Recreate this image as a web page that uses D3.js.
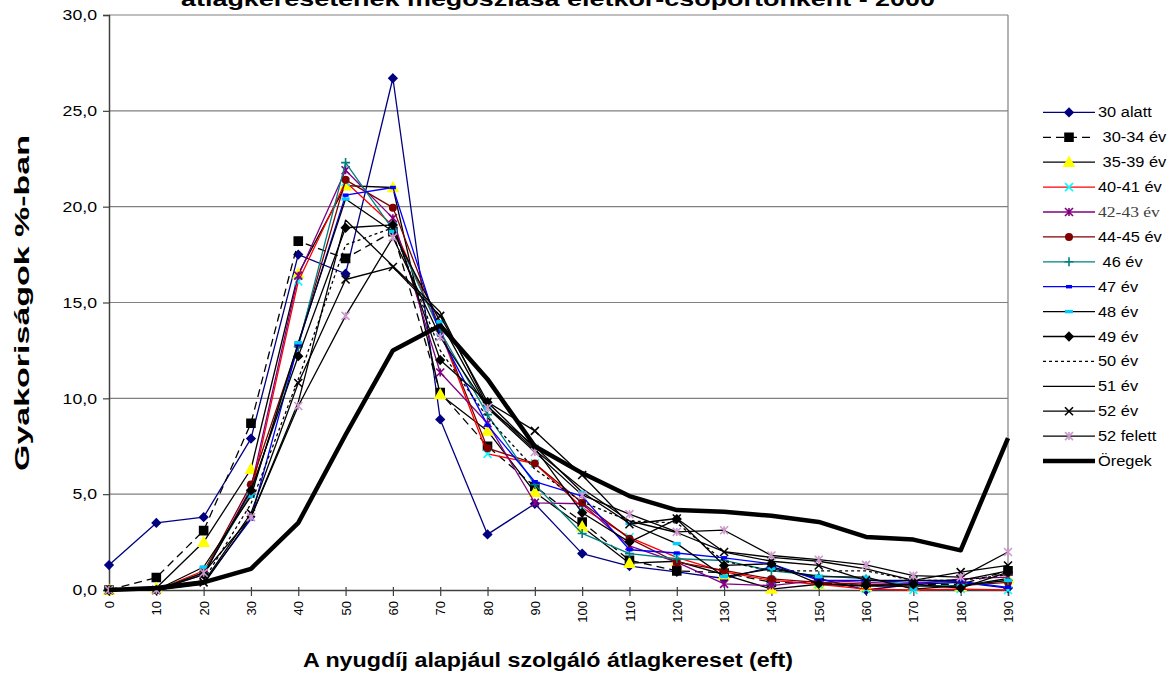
<!DOCTYPE html>
<html><head><meta charset="utf-8">
<script src="https://cdn.jsdelivr.net/npm/d3@7"></script>
<style>
html,body{margin:0;padding:0;background:#fff;}
svg{display:block;font-family:"Liberation Sans",Arial,sans-serif;}
</style></head>
<body><svg id="c" width="1171" height="678"></svg>
<script>
const categories = [0,10,20,30,40,50,60,70,80,90,100,110,120,130,140,150,160,170,180,190];
const yTicks = [0,5,10,15,20,25,30];
const seriesNames = ["30 alatt"," 30-34 év"," 35-39 év","40-41 év","42-43 év","44-45 év"," 46 év","47 év","48 év","49 év","50 év","51 év","52 év","52 felett","Öregek"];

const s30alatt  = [1.3,3.5,3.8,7.9,17.5,16.5,26.7,8.9,2.9,4.5,1.9,1.25,0.95,0.6,1.2,0.6,0.0,0.3,0.4,0.1];
const s30_34    = [0.0,0.65,3.1,8.7,18.2,17.3,18.7,10.3,7.5,5.4,3.55,1.55,1.0,0.9,0.4,0.4,0.2,0.3,0.3,1.0];
const s35_39    = [0.0,0.1,2.5,6.3,16.5,21.1,21.0,10.2,8.3,5.1,3.3,1.4,1.5,0.8,0.05,0.3,0.2,0.2,0.2,0.6];
const s40_41    = [0.0,0.0,1.0,5.0,16.1,21.3,19.0,13.5,7.1,6.6,4.3,2.75,1.7,0.95,0.5,0.3,0.05,0.0,0.05,0.0];
const s42_43    = [0.0,0.0,0.8,5.3,16.4,21.9,19.4,11.35,8.7,4.55,4.5,2.3,1.45,0.32,0.23,0.5,0.4,0.3,0.58,0.67];
const s44_45    = [0.0,0.0,0.9,5.5,12.8,21.4,19.95,13.6,7.4,6.6,4.55,2.68,1.45,1.02,0.58,0.4,0.3,0.23,0.23,0.4];
const s46       = [0.0,0.0,0.9,5.0,12.7,22.3,18.8,13.5,9.15,5.5,2.95,1.9,1.63,1.54,1.0,0.75,0.58,0.23,0.23,0.5];
const s47       = [0.0,0.0,0.4,3.7,12.8,20.6,21.0,13.3,8.6,5.65,4.9,2.1,1.93,1.68,1.37,0.5,0.5,0.4,0.45,0.14];
const s48       = [0.0,0.0,1.2,4.9,12.9,20.4,18.7,14.0,9.5,7.5,5.1,3.47,2.42,0.7,1.1,0.7,0.67,0.05,0.23,0.5];
const s49       = [0.0,0.0,0.8,5.2,12.2,18.9,19.05,12.0,9.8,7.4,4.03,2.5,3.7,1.28,1.37,0.32,0.23,0.3,0.1,0.93];
const s50       = [0.0,0.0,0.5,4.5,11.0,18.0,18.9,12.5,9.0,6.3,4.6,3.6,3.5,1.5,1.0,1.0,1.0,0.5,0.5,0.8];
const s51       = [0.0,0.0,0.3,3.8,9.8,19.3,16.9,14.5,9.6,7.3,5.3,3.6,3.0,2.0,1.7,1.5,1.1,0.5,0.5,1.0];
const s52       = [0.0,0.0,0.4,4.0,10.8,16.2,16.85,14.3,9.8,8.3,6.0,3.43,3.73,1.98,1.5,1.28,0.5,0.5,0.93,1.28];
const s52felett = [0.0,0.0,0.9,3.8,9.6,14.3,18.4,13.2,9.5,7.2,4.95,3.96,3.03,3.12,1.8,1.58,1.31,0.75,0.67,1.98];
const sOregek   = [0.0,0.1,0.4,1.1,3.5,8.1,12.5,13.8,11.0,7.5,6.1,4.9,4.17,4.08,3.87,3.55,2.77,2.63,2.07,7.93];

const seriesValues = [s30alatt,s30_34,s35_39,s40_41,s42_43,s44_45,s46,s47,s48,s49,s50,s51,s52,s52felett,sOregek];

const styles = [
  {line:"#000080", w:1.3, dash:null, marker:"diamond", fill:"#000080", stroke:"#000080", size:8},
  {line:"#000000", w:1.3, dash:"8,5", marker:"square", fill:"#000000", stroke:"#000000", size:8},
  {line:"#000000", w:1.3, dash:null, marker:"triangle", fill:"#FFFF00", stroke:"#FFFF00", size:10},
  {line:"#FF0000", w:1.3, dash:null, marker:"x", fill:"none", stroke:"#00FFFF", size:8},
  {line:"#800080", w:1.3, dash:null, marker:"star", fill:"none", stroke:"#800080", size:8},
  {line:"#800000", w:1.3, dash:null, marker:"circle", fill:"#800000", stroke:"#800000", size:8},
  {line:"#008080", w:1.3, dash:null, marker:"plus", fill:"none", stroke:"#008080", size:9},
  {line:"#0000FF", w:1.3, dash:null, marker:"bar", fill:"#0000FF", stroke:"none", size:6},
  {line:"#000000", w:1.3, dash:null, marker:"bar", fill:"#00CCFF", stroke:"none", size:8},
  {line:"#000000", w:1.3, dash:null, marker:"diamond", fill:"#000000", stroke:"#000000", size:8},
  {line:"#000000", w:1.3, dash:"3,3", marker:null},
  {line:"#000000", w:1.3, dash:null, marker:null},
  {line:"#000000", w:1.3, dash:null, marker:"x", fill:"none", stroke:"#000000", size:8},
  {line:"#000000", w:1.3, dash:null, marker:"star", fill:"none", stroke:"#CC99CC", size:8},
  {line:"#000000", w:4.5, dash:null, marker:null}
];

const svg = d3.select("#c");
const X0 = 109, X1 = 1008, YT = 15, YB = 590;
const x = d3.scalePoint().domain(categories).range([X0, X1]);
const y = d3.scaleLinear().domain([0,30]).range([YB, YT]);
const fmt = v => d3.format(".1f")(v).replace(".", ",");

function stretch(sel, k){ sel.each(function(){ const L=this.getComputedTextLength(); d3.select(this).attr("textLength", L*k).attr("lengthAdjust","spacingAndGlyphs"); }); }

svg.append("g").selectAll("line").data(yTicks.filter(v=>v>0)).join("line")
  .attr("x1", X0).attr("x2", X1).attr("y1", d=>y(d)).attr("y2", d=>y(d))
  .attr("stroke", "#808080").attr("stroke-width", 1.2);
svg.append("line").attr("x1", X1).attr("x2", X1).attr("y1", YT).attr("y2", YB).attr("stroke","#808080").attr("stroke-width",1.2);

const yAxis = d3.axisLeft(y).tickValues(yTicks).tickFormat(fmt).tickSize(6).tickPadding(6);
const gy = svg.append("g").attr("transform", `translate(${X0},0)`).call(yAxis);
gy.select(".domain").attr("stroke","#404040").attr("stroke-width",1.5);
gy.selectAll(".tick line").attr("stroke","#404040").attr("stroke-width",1.2);
gy.selectAll(".tick text").attr("font-size",15).attr("fill","#000").attr("font-family","Liberation Sans, Arial");
stretch(gy.selectAll(".tick text"), 1.18);

const xAxis = d3.axisBottom(x).tickSize(6).tickPadding(4);
const gx = svg.append("g").attr("transform", `translate(0,${YB})`).call(xAxis);
gx.select(".domain").attr("stroke","#404040").attr("stroke-width",1.5);
gx.selectAll(".tick line").attr("stroke","#404040").attr("stroke-width",1.2).attr("y1",-3);
gx.selectAll(".tick text").attr("font-size",13).attr("fill","#000").attr("font-family","Liberation Sans, Arial")
  .attr("transform","rotate(-90)").attr("text-anchor","end").attr("dy","0.35em").attr("x",-11).attr("y",0);

function markerPath(type, s){
  const h = s/2;
  switch(type){
    case "diamond": return `M0,${-h}L${h},0L0,${h}L${-h},0Z`;
    case "square": return `M${-h},${-h}H${h}V${h}H${-h}Z`;
    case "triangle": return `M0,${-h}L${h},${h*0.8}L${-h},${h*0.8}Z`;
    case "x": return `M${-h},${-h}L${h},${h}M${-h},${h}L${h},${-h}`;
    case "star": return `M${-h},${-h}L${h},${h}M${-h},${h}L${h},${-h}M0,${-h}V${h}`;
    case "plus": return `M${-h},0H${h}M0,${-h}V${h}`;
    case "bar": return `M${-h},-1.7H${h}V1.7H${-h}Z`;
  }
  return "";
}
function drawMarker(g, st, cx, cy){
  if(!st.marker) return;
  if(st.marker==="circle"){
    g.append("circle").attr("cx",cx).attr("cy",cy).attr("r",st.size/2).attr("fill",st.fill);
  } else {
    g.append("path").attr("d", markerPath(st.marker, st.size)).attr("transform",`translate(${cx},${cy})`)
      .attr("fill", st.fill).attr("stroke", st.stroke==="none"?null:st.stroke).attr("stroke-width",1.6);
  }
}

const lineGen = d3.line().x((d,i)=>x(categories[i])).y(d=>y(d));
const plot = svg.append("g");
seriesValues.forEach((vals, k)=>{
  const st = styles[k];
  const g = plot.append("g");
  g.append("path").datum(vals).attr("d", lineGen).attr("fill","none")
    .attr("stroke", st.line).attr("stroke-width", st.w).attr("stroke-dasharray", st.dash)
    .attr("stroke-linejoin","round");
  vals.forEach((v,i)=> drawMarker(g, st, x(categories[i]), y(v)));
});

const LX0 = 1043, LX1 = 1095, LT = 1098, LY0 = 112.4, LDY = 24.9;
const lg = svg.append("g");
seriesNames.forEach((name,k)=>{
  const st = styles[k];
  const cy = LY0 + k*LDY;
  const g = lg.append("g");
  g.append("line").attr("x1",LX0).attr("x2",LX1).attr("y1",cy).attr("y2",cy)
    .attr("stroke",st.line).attr("stroke-width",st.w).attr("stroke-dasharray",st.dash);
  drawMarker(g, st, (LX0+LX1)/2, cy);
  const t = g.append("text").attr("x",LT).attr("y",cy).attr("dy","0.36em")
    .attr("font-size",14).style("white-space","pre").text(name);
  if(k===4){ t.attr("font-family","Liberation Serif, Times New Roman").attr("fill","#404040").attr("font-size",15); }
  stretch(t, 1.17);
});

svg.append("text").attr("x",558).attr("y",6).attr("text-anchor","middle").attr("font-weight","bold")
  .attr("font-size",20).attr("textLength",754).attr("lengthAdjust","spacingAndGlyphs")
  .text("átlagkeresetének megoszlása életkor-csoportonként - 2000");
svg.append("text").attr("x",548).attr("y",667).attr("text-anchor","middle").attr("font-weight","bold")
  .attr("font-size",20).attr("textLength",490).attr("lengthAdjust","spacingAndGlyphs")
  .text("A nyugdíj alapjául szolgáló átlagkereset (eft)");
svg.append("text").attr("transform","translate(29,303) rotate(-90)").attr("text-anchor","middle").attr("font-weight","bold")
  .attr("font-size",20).attr("textLength",336).attr("lengthAdjust","spacingAndGlyphs")
  .text("Gyakoriságok %-ban");
</script></body></html>
